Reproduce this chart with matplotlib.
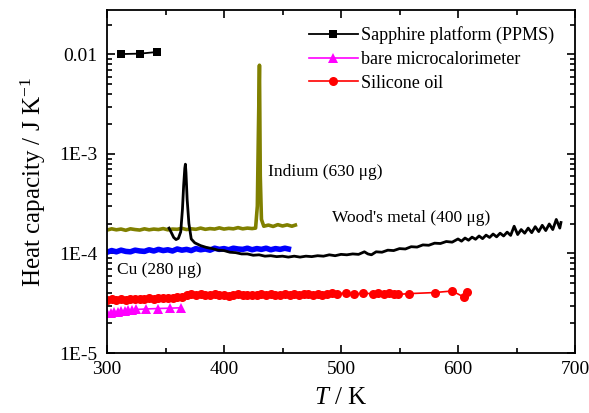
import numpy as np
import matplotlib
matplotlib.use('Agg')
import matplotlib.pyplot as plt
from matplotlib.ticker import FuncFormatter, LogLocator, NullFormatter, MultipleLocator

plt.rcParams['font.family'] = ['Liberation Serif', 'DejaVu Serif']
plt.rcParams['mathtext.fontset'] = 'custom'
plt.rcParams['mathtext.rm'] = 'Liberation Serif'
plt.rcParams['mathtext.it'] = 'Liberation Serif:italic'

# ---- data ----
# sapphire platform (PPMS)
T_sap = [312, 328, 343]
C_sap = [1.01e-2, 1.02e-2, 1.06e-2]

# bare microcalorimeter
T_bare = [300, 303, 306, 309, 312, 315, 318, 321, 325, 333.5, 343.5, 353.5, 363.5]
C_bare = [2.50, 2.55, 2.58, 2.60, 2.63, 2.65, 2.68, 2.70, 2.74, 2.77, 2.80, 2.82, 2.85]  # x1e-5

# silicone oil
T_oil = [300, 304, 308, 312, 316, 320, 324, 328, 332, 336,
         340, 344, 348, 352, 356, 360, 364, 368, 372, 376,
         380, 384, 388, 392, 396, 400, 404, 408, 412, 416,
         420, 424, 428, 432, 436, 440, 444, 448, 452, 456,
         460, 464, 468, 472, 476, 480, 484, 488, 492,
         497, 504, 511, 519, 527, 532, 537, 541, 545, 549, 558, 580, 595, 605, 608]
C_oil = [3.40, 3.45, 3.42, 3.47, 3.44, 3.49, 3.46, 3.51, 3.49, 3.54,
         3.51, 3.56, 3.54, 3.59, 3.57, 3.62, 3.65, 3.80, 3.92, 3.85,
         3.95, 3.86, 3.82, 3.90, 3.80, 3.86, 3.78, 3.84, 3.88, 3.80,
         3.86, 3.79, 3.85, 3.90, 3.82, 3.88, 3.80, 3.86, 3.92, 3.84,
         3.90, 3.83, 3.89, 3.95, 3.86, 3.92, 3.85, 3.93, 4.05,
         3.95, 4.00, 3.92, 3.98, 3.95, 4.02, 3.90, 3.97, 3.93, 3.88, 3.95, 4.05, 4.20, 3.65, 4.10]  # x1e-5

# Cu (280 ug)
T_cu = [300, 304, 308, 312, 316, 320, 324, 328, 332, 336,
        340, 344, 348, 352, 356, 360, 364, 368, 372, 376,
        380, 384, 388, 392, 396, 400, 404, 408, 412, 416,
        420, 424, 428, 432, 436, 440, 444, 448, 452, 455]
C_cu = [1.03, 1.07, 1.04, 1.08, 1.05, 1.04, 1.08, 1.06, 1.05, 1.09,
        1.06, 1.10, 1.07, 1.09, 1.06, 1.11, 1.08, 1.10, 1.07, 1.12,
        1.09, 1.11, 1.08, 1.13, 1.10, 1.12, 1.09, 1.13, 1.11, 1.10,
        1.13, 1.09, 1.12, 1.10, 1.13, 1.09, 1.12, 1.10, 1.13, 1.11]  # x1e-4

# Indium (630 ug)
T_in = [300, 304, 308, 312, 316, 320, 324, 328, 332, 336,
        340, 344, 348, 352, 356, 360, 364, 368, 372, 376,
        380, 384, 388, 392, 396, 400, 404, 408, 412, 416,
        420, 424, 427, 428.5, 429.5, 430.3, 431, 432,
        434, 438, 442, 446, 450, 454, 458, 461]
C_in = [1.72, 1.77, 1.73, 1.76, 1.71, 1.77, 1.74, 1.72, 1.77, 1.73,
        1.76, 1.74, 1.78, 1.73, 1.76, 1.75, 1.79, 1.74, 1.77, 1.75,
        1.80, 1.75, 1.78, 1.76, 1.81, 1.76, 1.79, 1.77, 1.82, 1.77,
        1.80, 1.78, 1.80, 3.0, 20.0, 78.0, 6.0, 2.2,
        1.88, 1.93, 1.87, 1.95, 1.89, 1.94, 1.88, 1.93]  # x1e-4

# Wood's metal (400 ug)
T_wm = [353, 355, 357, 359, 361, 363, 364.5, 365.5, 366.5, 367, 367.5, 368.5, 370, 372, 375,
        380, 385, 390, 395, 400, 405, 410, 415, 420, 425,
        430, 435, 440, 445, 450, 455, 460, 465, 470, 475,
        480, 485, 490, 495, 500, 505, 510, 515, 520, 523, 526,
        530, 535, 540, 545, 550, 555, 560, 565, 570, 575,
        580, 585, 590, 595,
        600, 603, 606, 609, 612, 615, 618, 621, 624, 627,
        630, 633, 636, 639, 642, 645, 648, 651, 654, 657,
        660, 663, 666, 669, 672, 675, 678, 681, 684, 687, 688]
C_wm = [1.80, 1.62, 1.45, 1.38, 1.42, 1.65, 2.8, 4.8, 7.2, 7.9, 6.5, 3.5, 2.0, 1.40, 1.28,
        1.20, 1.15, 1.12, 1.08, 1.07, 1.03, 1.02, 0.99, 0.99, 0.96,
        0.97, 0.94, 0.95, 0.93, 0.94, 0.92, 0.94, 0.92, 0.94, 0.93,
        0.95, 0.94, 0.97, 0.95, 0.98, 0.97, 0.99, 0.98, 1.04, 0.99, 0.97,
        1.04, 1.03, 1.08, 1.07, 1.12, 1.11, 1.17, 1.16, 1.22, 1.21,
        1.27, 1.26, 1.32, 1.30,
        1.40, 1.33, 1.43, 1.36, 1.46, 1.39, 1.50, 1.41, 1.53, 1.45,
        1.57, 1.47, 1.60, 1.50, 1.64, 1.52, 1.88, 1.55, 1.74, 1.60,
        1.80, 1.62, 1.86, 1.66, 1.92, 1.70, 1.98, 1.74, 2.20, 1.80, 2.05]  # x1e-4

yticks = [1e-5, 1e-4, 1e-3, 1e-2]
ytick_labels = ['1E-5', '1E-4', '1E-3', '0.01']

fig = plt.figure(figsize=(5.89, 4.13), dpi=100)
ax = fig.add_axes([107/589, 1-353/413, (575-107)/589, (353-10)/413])

ax.plot(T_in, np.array(C_in)*1e-4, color='#808000', lw=2.6)
ax.plot(T_cu, np.array(C_cu)*1e-4, color='#0000ff', lw=4)
ax.plot(T_wm, np.array(C_wm)*1e-4, color='black', lw=2)
ax.plot(T_oil, np.array(C_oil)*1e-5, color='red', lw=1.2, marker='o', ms=6.5,
        markeredgewidth=0, label='Silicone oil')
ax.plot(T_bare, np.array(C_bare)*1e-5, color='magenta', lw=1.2, marker='^', ms=7.5,
        markeredgewidth=0, label='bare microcalorimeter')
ax.plot(T_sap, C_sap, color='black', lw=1.3, marker='s', ms=6,
        markeredgewidth=0, label='Sapphire platform (PPMS)')

ax.set_yscale('log')
ax.set_xlim(300, 700)
ax.set_ylim(1e-5, 0.028)
ax.set_yticks(yticks)
ax.yaxis.set_major_formatter(FuncFormatter(lambda v, p: dict(zip(yticks, ytick_labels)).get(v, '')))
ax.yaxis.set_minor_locator(LogLocator(base=10, subs=np.arange(2, 10)))
ax.yaxis.set_minor_formatter(NullFormatter())
ax.xaxis.set_major_locator(MultipleLocator(100))
ax.xaxis.set_minor_locator(MultipleLocator(50))

ax.tick_params(which='both', direction='in', top=True, right=True, width=1.2, labelsize=14)
ax.tick_params(which='major', length=6)
ax.tick_params(which='minor', length=3.5)
ax.tick_params(axis='y', pad=7)
ax.tick_params(axis='x', pad=6)
for s in ax.spines.values():
    s.set_linewidth(1.3)

ax.set_xlabel('$T$ / K', fontsize=18, labelpad=6)
ax.set_ylabel('Heat capacity / J K$^{-1}$', fontsize=18, labelpad=8)

ax.text(437.6, 6.6e-4, 'Indium (630 μg)', fontsize=12.5, va='center')
ax.text(492.5, 2.3e-4, "Wood's metal (400 μg)", fontsize=12.5, va='center')
ax.text(308.8, 6.9e-5, 'Cu (280 μg)', fontsize=12.5, va='center')

h, l = ax.get_legend_handles_labels()
leg = ax.legend(h[::-1], l[::-1], loc='upper left', bbox_to_anchor=(300/589, 1-17/413),
                bbox_transform=fig.transFigure, frameon=False, fontsize=13,
                handlelength=2.7, handletextpad=0.2, labelspacing=0.38, borderpad=0)

fig.savefig('out.png', dpi=100)
